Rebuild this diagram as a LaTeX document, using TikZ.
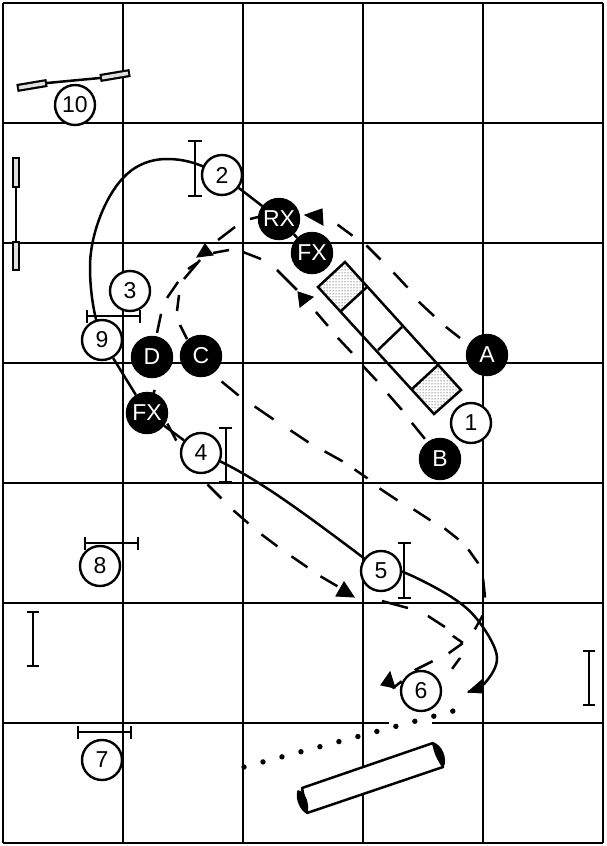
\documentclass[tikz,border=0pt]{standalone}
\usepackage{fontspec}
\setmainfont{Liberation Sans}
\usetikzlibrary{patterns}
\pgfdeclarelayer{back}
\pgfsetlayers{back,main}
\tikzset{
  gridline/.style={line width=2.2pt},
  course/.style={line width=2.5pt,line join=round},
  dashpath/.style={line width=2.5pt,line join=round},
  jumpbar/.style={line width=2.5pt},
  barend/.style={line width=8pt},
  barfill/.style={line width=3.6pt,gray!25},
  numcirc/.style={circle,draw=black,line width=2.4pt,fill=white,minimum size=40pt,inner sep=0pt,font=\fontsize{23}{23}\selectfont},
  blackcirc/.style={circle,draw=black,line width=2.4pt,fill=black,text=white,minimum size=40pt,inner sep=0pt,font=\fontsize{23}{23}\selectfont},
  head/.style={fill=black,draw=black,line width=1pt,line join=miter},
  dotline/.style={line width=5.4pt,line cap=round,dash pattern=on 0pt off 19.65pt}
}
\begin{document}
\begin{tikzpicture}[x=1pt,y=-1pt]
\useasboundingbox (0,0) rectangle (606,846);
% nodes
\node[numcirc] (n10) at (75,105) {10};
\node[numcirc] (n2) at (222,175) {2};
\node[numcirc] (n3) at (130,291) {3};
\node[numcirc] (n9) at (102,340) {9};
\node[numcirc] (n1) at (471,423) {1};
\node[numcirc] (n4) at (201,453) {4};
\node[numcirc] (n5) at (381,571) {5};
\node[numcirc] (n6) at (421,691) {6};
\node[numcirc] (n8) at (100,566) {8};
\node[numcirc] (n7) at (102,760) {7};
\node[blackcirc] (RX) at (279,219) {RX};
\node[blackcirc] (FX) at (312,253) {FX};
\node[blackcirc] (A) at (487,355) {A};
\node[blackcirc] (B) at (440,459) {B};
\node[blackcirc] (C) at (201,356) {C};
\node[blackcirc] (D) at (152,357) {D};
\node[blackcirc] (FXb) at (147,413) {FX};
\coordinate (h1) at (322,217);
\coordinate (h5) at (345,590);
\coordinate (h6) at (381,685);
\coordinate (h7) at (468,692);
\coordinate (ds) at (244,767);
\coordinate (de) at (458,709.7);
\begin{pgfonlayer}{back}
\fill[white] (0,0) rectangle (606,846);
% grid
\foreach \gx in {3,123,243,363,483,603} \draw[gridline] (\gx,3) -- (\gx,843);
\foreach \gy in {3,123,243,363,483,603,723,843} \draw[gridline] (3,\gy) -- (603,\gy);
\draw[white,line width=3.4pt] (389,723) -- (432,723);
% A-frame
\fill[pattern=dots,pattern color=black] (345,262) -- (367,287) -- (341,311) -- (318,287) -- cycle;
\fill[pattern=dots,pattern color=black] (438,365) -- (461,390) -- (434,414) -- (412,389) -- cycle;
\draw[line width=2.5pt,line join=miter] (345,262) -- (461,390) -- (434,414) -- (318,287) -- cycle;
\draw[line width=2.5pt] (367,287) -- (341,311) (402,327) -- (378,350) (438,365) -- (412,389);
% jump 10 and the wing at the left
\draw[jumpbar] (47,83) -- (100,78);
\draw[barend] (17,88) -- (47,83) (100,78) -- (130,73);
\draw[barfill] (19,87.7) -- (45,83.3) (102,77.7) -- (128,73.3);
\draw[jumpbar] (16,188) -- (16,241);
\draw[barend] (16,157) -- (16,188) (16,241) -- (16,271);
\draw[barfill] (16,159) -- (16,186) (16,243) -- (16,269);
% jumps
\draw[jumpbar] (195,141) -- (195,196) (188,141) -- (202,141) (188,196) -- (202,196);
\draw[jumpbar] (87,316) -- (140,316) (87,310) -- (87,323) (140,310) -- (140,323);
\draw[jumpbar] (226,428) -- (226,482) (219,428) -- (232,428) (219,482) -- (232,482);
\draw[jumpbar] (404,543) -- (404,598) (398,543) -- (411,543) (398,598) -- (411,598);
\draw[jumpbar] (85,543) -- (138,543) (85,537) -- (85,550) (138,537) -- (138,550);
\draw[jumpbar] (78,732) -- (131,732) (78,726) -- (78,739) (131,726) -- (131,739);
\draw[jumpbar] (33,612) -- (33,666) (27,612) -- (39,612) (27,666) -- (39,666);
\draw[jumpbar] (589,651) -- (589,705) (583,651) -- (595,651) (583,705) -- (595,705);
% tunnel
\filldraw[fill=white,line width=2.5pt,line join=round] (433,743) -- (302,788) -- (307,813) -- (443,767) -- cycle;
\fill[line join=round,draw=black,line width=1.5pt] (433,743) .. controls (441,745) and (447,758) .. (443,767) .. controls (438,760) and (434,752) .. cycle;
\fill[line join=round,draw=black,line width=1.5pt] (298,791) .. controls (304,791) and (309,803) .. (307,813) .. controls (301,810) and (296,800) .. cycle;
% solid course
\draw[course] (n2.center) .. controls (205,167) and (190,159) .. (167,159) .. controls (148,159) and (133,167) .. (123,178) .. controls (105,197) and (90,235) .. (90,267) .. controls (90,295) and (95,320) .. (n9.center);
\draw[course] (n2) -- (RX);
\draw[course] (RX) -- (FX);
\draw[course] (n9) -- (FXb);
\draw[course] (FXb) -- (n4);
\draw[course] (n4.center) .. controls (250,472) and (300,510) .. (n5.center);
\draw[course] plot[smooth,tension=0.6] coordinates {(n5.center) (403,572) (453,598) (480,623) (497,657) (485,683) (h7)};
% dashed course
\draw[dashpath,dash pattern=on 0pt off 31.9pt on 18pt off 16pt on 21pt off 18pt on 20.5pt off 18.4pt on 20pt off 17pt on 18.6pt off 200pt]
  (A.center) -- (460,338) -- (446,327) -- (434,316) -- (419,302) -- (408,288) -- (394,273) -- (381,260) -- (367,246) -- (353,236) -- (338,225) -- (h1) -- (RX.center);
\draw[dashpath,dash pattern=on 0pt off 21.1pt on 8.2pt off 17pt on 21.4pt off 31.1pt on 10.8pt off 16.4pt on 19.4pt off 17.1pt on 19.4pt off 200pt]
  (RX.center) -- (258,217) -- (250,219) -- (235,227) -- (218,240) -- (197,263) -- (188,269) -- (178,282) -- (167,298) -- (161,314) -- (157,333) -- (D.center);
\draw[dashpath,dash pattern=on 0pt off 22pt on 15.7pt off 14.3pt on 16.1pt off 16.8pt on 24.8pt off 14.8pt on 16.3pt off 14.1pt on 19.3pt off 19.4pt on 28.3pt off 29pt on 18.4pt off 15.6pt on 20.5pt off 17pt on 20.5pt off 17pt on 21.3pt off 16.4pt on 20.6pt off 300pt]
  (C.center) -- (187,339) -- (180,325) -- (177,311) -- (179,295) -- (184,279) -- (200,260) -- (213,253) -- (229,250) -- (243,252) -- (261,259) -- (277,270) -- (297,290) -- (316,312) -- (328,326) -- (338,338) -- (352,353) -- (363,366) -- (377,381) -- (388,394) -- (402,410) -- (412,423) -- (425,439) -- (B.center);
\draw[dashpath,dash pattern=on 0pt off 32.8pt on 22pt off 19.4pt on 23pt off 20.2pt on 21.6pt off 18.4pt on 20.6pt off 14.4pt on 15.8pt off 15.6pt on 21.6pt off 18.4pt on 20.2pt off 16.1pt on 17.8pt off 14.1pt on 17.2pt off 15.8pt on 19.1pt off 18.1pt on 16.1pt off 18.4pt on 17.2pt off 17.9pt on 20.1pt off 17pt on 11.4pt off 100pt]
  (C.center) -- (221,381) -- (238,395) -- (254,406) -- (273,419) -- (290,430) -- (308,442) -- (324,451) -- (342,461) -- (354,469) -- (367,478) -- (379,488) -- (397,500) -- (413,509) -- (430,520) -- (444,528) -- (458,539) -- (468,549) -- (478,563) -- (483,578) -- (485,597) -- (483,615) -- (475,629) -- (463,643) -- (449,653) -- (433,661) -- (415,670) -- (402,681) -- (393,688) -- (h6);
\draw[dashpath,dash pattern=on 0pt off 33.1pt on 25pt off 22.4pt on 19.2pt off 53.8pt on 19.8pt off 17pt on 19.8pt off 17pt on 20pt off 17.2pt on 19.4pt off 15.8pt on 19.7pt off 100pt]
  (D.center) -- (155,389) -- (FXb.center) -- (167,423) -- (176,440) -- (207,484) -- (221,498) -- (233,510) -- (248,523) -- (261,534) -- (277,546) -- (291,556) -- (307,567) -- (320,576) -- (337,586) -- (h5);
\draw[dashpath,dash pattern=on 0pt off 38.6pt on 26.9pt off 21.5pt on 20.2pt off 12pt on 12.2pt off 15.3pt on 13.6pt off 100pt]
  (h5) -- (382,601) -- (408,608) -- (428,616) -- (445,627) -- (453,636) -- (463,643) -- (460,658) -- (452,669) -- (n6.center);
% arrow heads
\filldraw[head] (305,215) -- (322,209) -- (323,225) -- cycle;
\filldraw[head] (205,244) -- (197,257) -- (213,255) -- cycle;
\filldraw[head] (313,297) -- (298,292) -- (300,307) -- cycle;
\filldraw[head] (344,582) -- (336,596) -- (354,597) -- cycle;
\filldraw[head] (381,685) -- (390,672) -- (395,688) -- cycle;
\filldraw[head] (468,692) -- (483,679) -- (483,693) -- cycle;
% dotted line
\draw[dotline] (ds) -- (de);
\end{pgfonlayer}
\end{tikzpicture}
\end{document}
